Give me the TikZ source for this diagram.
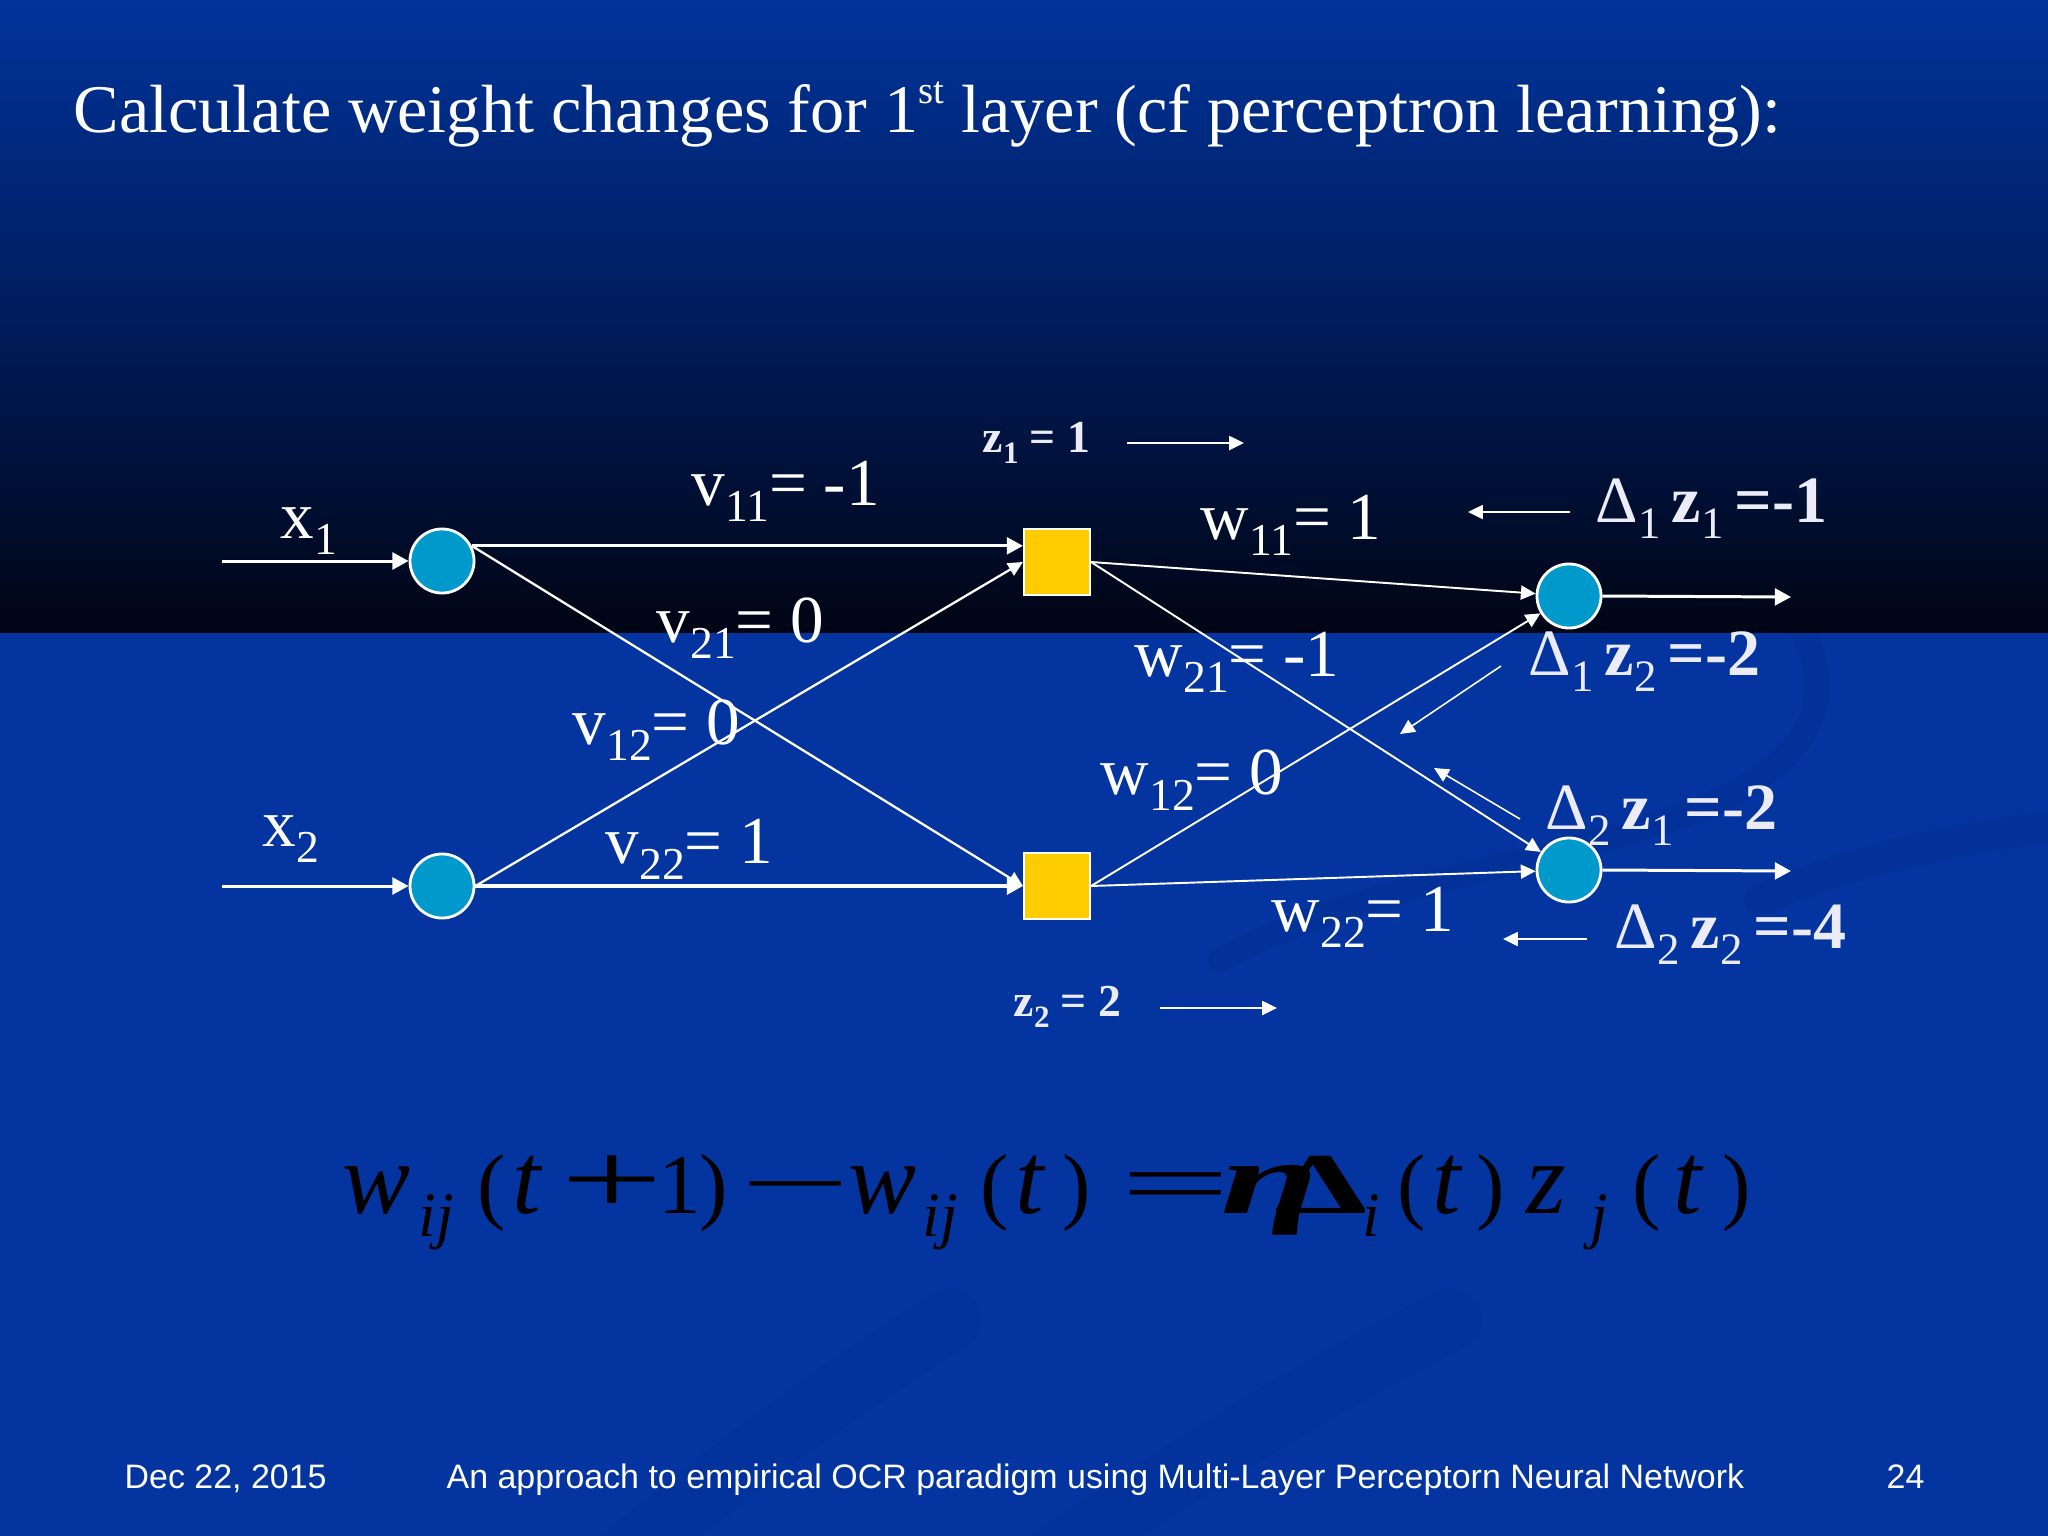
\documentclass[tikz,border=0pt]{standalone}
\usepackage{fontspec}
\setmainfont{Liberation Serif}
\setsansfont{Liberation Sans}
\usepackage{graphicx}
\usetikzlibrary{arrows.meta}
\definecolor{bgblue}{RGB}{3,52,160}
\definecolor{topblue}{RGB}{0,52,155}
\definecolor{midblue}{RGB}{0,28,92}
\definecolor{darkbot}{RGB}{0,5,20}
\definecolor{nodeblue}{RGB}{0,153,204}
\definecolor{nodegold}{RGB}{255,204,0}
\definecolor{lbl}{RGB}{236,236,248}
\definecolor{swirldark}{RGB}{0,30,110}
\newcommand\sbx[1]{\raisebox{-0.25em}{\scalebox{0.68}{#1}}}
\newcommand\eql[1]{{\fontsize{29}{32}\selectfont\itshape #1}}
\tikzset{
  inc/.style={circle, draw=white, line width=0.8pt, fill=nodeblue, minimum size=0.64cm, inner sep=0pt},
  hid/.style={rectangle, draw=white, line width=0.6pt, fill=nodegold, minimum size=0.66cm, inner sep=0pt},
  fat/.style={draw=white, line width=0.85pt, -{Triangle[length=4.6pt,width=4.8pt]}},
  fine/.style={draw=white, line width=0.55pt, -{Triangle[length=4.2pt,width=4pt]}},
  lab/.style={text=white, anchor=base west, inner sep=0pt, font=\fontsize{19.1}{23}\selectfont},
  dlab/.style={text=lbl, anchor=base west, inner sep=0pt, font=\fontsize{18.8}{23}\selectfont},
  zlab/.style={text=lbl, anchor=base west, inner sep=0pt, font=\fontsize{13}{16}\selectfont\bfseries},
  titl/.style={text=white, anchor=base west, inner sep=0pt, font=\fontsize{19.4}{24}\selectfont},
  foot/.style={text=white, anchor=base west, inner sep=0pt, font=\sffamily\fontsize{9.65}{11}\selectfont},
  eqn/.style={text=black, anchor=base west, inner sep=0pt, font=\fontsize{24.2}{29}\selectfont},
  eqsub/.style={text=black, anchor=base west, inner sep=0pt, font=\fontsize{18}{20}\selectfont\itshape},
  swirl/.style={line cap=round, draw=swirldark},
}
\begin{document}
\begin{tikzpicture}[x=0.01cm, y=-0.01cm]
\useasboundingbox (0,0) rectangle (2048,1536);
% background
\shade[top color=topblue, bottom color=darkbot, middle color=midblue] (0,0) rectangle (2048,633);
\fill[bgblue] (0,633) rectangle (2048,1536);
% faint swirls
\begin{scope}
\clip (0,633) rectangle (2048,1536);
\draw[swirl, opacity=0.12, line width=7pt] (1800,625) .. controls (1850,720) and (1790,790) .. (1620,835) .. controls (1470,875) and (1330,900) .. (1220,960);
\draw[swirl, opacity=0.1, line width=9pt] (2060,825) .. controls (1950,840) and (1850,860) .. (1760,900);
\draw[swirl, opacity=0.09, line width=18pt] (620,1560) .. controls (720,1480) and (820,1400) .. (950,1320);
\draw[swirl, opacity=0.09, line width=18pt] (1050,1560) .. controls (1170,1480) and (1290,1400) .. (1450,1320);
\end{scope}
% title
\node[titl] (ttl) at (73,132) {Calculate weight changes for 1\raisebox{0.42em}{\fontsize{11}{12}\selectfont st} layer (cf perceptron learning):};
% nodes
\node[inc] (x1n) at (442,561) {};
\node[inc] (x2n) at (442,886) {};
\node[hid] (h1) at (1057,562) {};
\node[hid] (h2) at (1057,886) {};
\node[inc] (o1) at (1569,596) {};
\node[inc] (o2) at (1569,870) {};
\coordinate (in1) at (222,561);
\coordinate (in2) at (222,886);
\coordinate (out1) at (1791,597);
\coordinate (out2) at (1791,871);
% connectors
\draw[fat] (in1) -- (x1n.west);
\draw[fat] (in2) -- (x2n.west);
\draw[fat] (x1n.27) -- (h1.west |- x1n.27);
\draw[fine, line width=0.65pt] (x1n.27) -- (h2.west);
\draw[fine, line width=0.65pt] (x2n.east) -- (h1.west);
\draw[fat, line width=1.2pt] (x2n.east) -- (h2.west);
\draw[fine] (h1.east) -- (o1);
\draw[fine] (h1.east) -- (o2);
\draw[fine] (h2.east) -- (o1);
\draw[fine] (h2.east) -- (o2);
\draw[fat] (o1.east) -- (out1);
\draw[fat] (o2.east) -- (out2);
% z arrows
\coordinate (za1) at (1127,443); \coordinate (zb1) at (1244,443);
\coordinate (za2) at (1160,1008); \coordinate (zb2) at (1277,1008);
\draw[fine, line width=0.45pt] (za1) -- (zb1);
\draw[fine, line width=0.45pt] (za2) -- (zb2);
% delta arrows
\coordinate (da1) at (1570,512); \coordinate (db1) at (1468,512);
\coordinate (da2) at (1501,666); \coordinate (db2) at (1400,734);
\coordinate (da3) at (1520,819); \coordinate (db3) at (1434,768);
\coordinate (da4) at (1587,939); \coordinate (db4) at (1503,939);
\draw[fine, line width=0.45pt] (da1) -- (db1);
\draw[fine, line width=0.45pt] (da2) -- (db2);
\draw[fine, line width=0.45pt] (da3) -- (db3);
\draw[fine, line width=0.45pt] (da4) -- (db4);
% labels
\node[lab] (lx1) at (280,538) {x\sbx{1}};
\node[lab] (lx2) at (262,846) {x\sbx{2}};
\node[lab] (lv11) at (691,505) {v\sbx{11}= -1};
\node[lab] (lv21) at (656,642) {v\sbx{21}= 0};
\node[lab] (lv12) at (572,744) {v\sbx{12}= 0};
\node[lab] (lv22) at (605,863) {v\sbx{22}= 1};
\node[lab] (lw11) at (1200,539) {w\sbx{11}= 1};
\node[lab] (lw21) at (1134,676) {w\sbx{21}= -1};
\node[lab] (lw12) at (1100,794) {w\sbx{12}= 0};
\node[lab] (lw22) at (1271,931) {w\sbx{22}= 1};
\node[zlab] (lz1) at (982,452) {z\sbx{1} = 1};
\node[zlab] (lz2) at (1013,1016) {z\sbx{2} = 2};
\node[dlab] (ld11) at (1595,522) {Δ\sbx{1}\,\textbf{z}\sbx{1}\,\textbf{=-1}};
\node[dlab] (ld12) at (1528,675) {Δ\sbx{1}\,\textbf{z}\sbx{2}\,\textbf{=-2}};
\node[dlab] (ld21) at (1545,829) {Δ\sbx{2}\,\textbf{z}\sbx{1}\,\textbf{=-2}};
\node[dlab] (ld22) at (1614,948) {Δ\sbx{2}\,\textbf{z}\sbx{2}\,\textbf{=-4}};
% equation
\node[eqn] (e1) at (342,1213) {\eql{w}};
\node[eqsub] (e2) at (418,1236) {ij};
\node[eqn] (e3) at (477,1213) {(};
\node[eqn] (e4) at (512,1213) {\eql{t}};
\node[eqn] (e5) at (560,1213) {\scalebox{2.15}[1.2]{+}};
\node[eqn] (e6) at (658,1213) {1};
\node[eqn] (e7) at (699,1213) {)};
\node[eqn] (e8) at (740,1213) {\scalebox{2.3}[1.05]{−}};
\node[eqn] (e9) at (848,1213) {\eql{w}};
\node[eqsub] (e10) at (922,1236) {ij};
\node[eqn] (e11) at (980,1213) {(};
\node[eqn] (e12) at (1015,1213) {\eql{t}};
\node[eqn] (e13) at (1062,1213) {)};
\node[eqn] (e14) at (1120,1213) {\scalebox{2.3}[1.05]{=}};
\node[eqn] (e15) at (1220,1213) {\scalebox{2.1}[1.2]{\bfseries\itshape η}};
\node[eqn] (e16) at (1274,1213) {\scalebox{1.75}[1.02]{\bfseries Δ}};
\node[eqsub] (e17) at (1362,1236) {i};
\node[eqn] (e18) at (1397,1213) {(};
\node[eqn] (e19) at (1432,1213) {\eql{t}};
\node[eqn] (e20) at (1476,1213) {)};
\node[eqn] (e21) at (1526,1213) {\eql{z}};
\node[eqsub] (e22) at (1590,1236) {j};
\node[eqn] (e23) at (1632,1213) {(};
\node[eqn] (e24) at (1673,1213) {\eql{t}};
\node[eqn] (e25) at (1722,1213) {)};
% footer
\node[foot] (fdate) at (124,1488) {Dec 22, 2015};
\node[foot] (fmid) at (446,1488) {An approach to empirical OCR paradigm using Multi-Layer Perceptorn Neural Network};
\node[foot] (fnum) at (1886,1488) {24};
\end{tikzpicture}
\end{document}
